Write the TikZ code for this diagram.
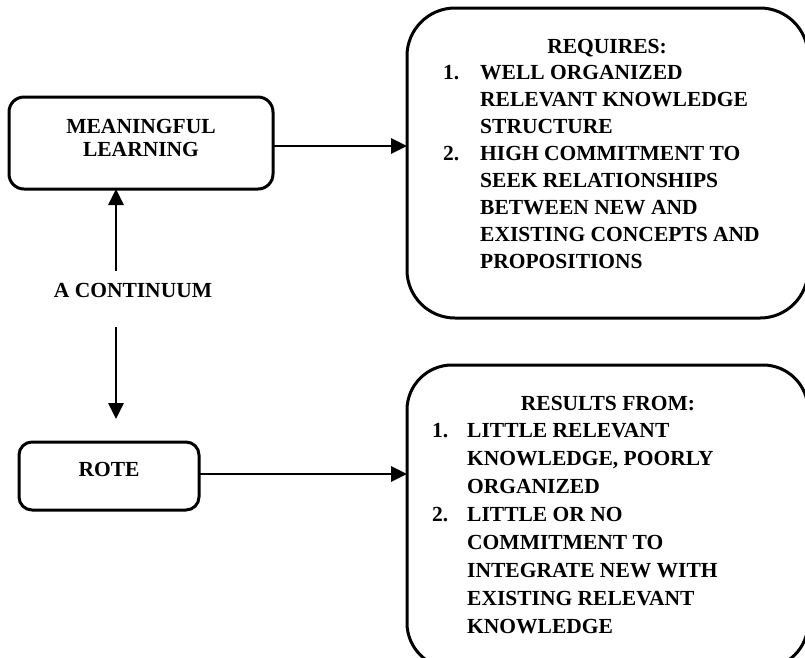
\documentclass[tikz,border=0pt]{standalone}
\usepackage{fontspec}
\setmainfont{Liberation Serif}
\usetikzlibrary{arrows.meta}
\tikzset{
  box/.style={draw, line width=3pt, rounded corners=#1, inner sep=0pt},
  conn/.style={line width=2.8pt, -{Triangle[length=16pt,width=15pt]}},
  txt/.style={font=\fontsize{21.5}{24}\selectfont\bfseries, inner sep=0pt},
  ln/.style={txt, anchor=base west},
  num/.style={txt, anchor=base west},
}
\begin{document}
\begin{tikzpicture}[x=1pt, y=-1pt]
\useasboundingbox (0,0) rectangle (805,657);
\clip (0,0) rectangle (805,657);
\fill[white] (0,0) rectangle (805,657);

% left-hand boxes
\draw[box=15pt] (9,97) rectangle (273,189);
\node[txt, align=center] (meantxt) at (141,138) {MEANINGFUL\\[-1pt]LEARNING};
\coordinate (meanE) at (273,146);
\coordinate (meanS) at (116,189);

\draw[box=13pt] (19,442) rectangle (199,510);
\node[txt] (rote) at (109,469) {ROTE};
\coordinate (roteE) at (199,474);

% the continuum between them
\node[txt] (cont) at (133,290) {A CONTINUUM};
\coordinate (contN) at (116,271);
\coordinate (contS) at (116,327);
\coordinate (roteN) at (116,419);

% right-hand boxes
\draw[box=48pt] (407,8) rectangle (808,318);
\coordinate (reqW) at (407,146);
\draw[box=45pt] (407,365) rectangle (808,668);
\coordinate (resW) at (407,474);

% text of the upper right box
\node[txt, anchor=base] (reqhead) at (607,53) {REQUIRES:};
\node[num] (req1) at (443,79) {1.};
\node[ln] (req1a) at (480,79) {WELL ORGANIZED};
\node[ln] (req1b) at (480,106) {RELEVANT KNOWLEDGE};
\node[ln] (req1c) at (480,133) {STRUCTURE};
\node[num] (req2) at (443,160) {2.};
\node[ln] (req2a) at (480,160) {HIGH COMMITMENT TO};
\node[ln] (req2b) at (480,187) {SEEK RELATIONSHIPS};
\node[ln] (req2c) at (480,214) {BETWEEN NEW AND};
\node[ln] (req2d) at (480,241) {EXISTING CONCEPTS AND};
\node[ln] (req2e) at (480,268) {PROPOSITIONS};

% text of the lower right box
\node[txt, anchor=base] (reshead) at (608,410) {RESULTS FROM:};
\node[num] (res1) at (432,437) {1.};
\node[ln] (res1a) at (467,437) {LITTLE RELEVANT};
\node[ln] (res1b) at (467,465) {KNOWLEDGE, POORLY};
\node[ln] (res1c) at (467,493) {ORGANIZED};
\node[num] (res2) at (432,521) {2.};
\node[ln] (res2a) at (467,521) {LITTLE OR NO};
\node[ln] (res2b) at (467,549) {COMMITMENT TO};
\node[ln] (res2c) at (467,577) {INTEGRATE NEW WITH};
\node[ln] (res2d) at (467,605) {EXISTING RELEVANT};
\node[ln] (res2e) at (467,633) {KNOWLEDGE};

% connectors
\draw[conn] (meanE) -- (reqW);
\draw[conn] (roteE) -- (resW);
\draw[conn] (contN) -- (meanS);
\draw[conn] (contS) -- (roteN);
\end{tikzpicture}
\end{document}
